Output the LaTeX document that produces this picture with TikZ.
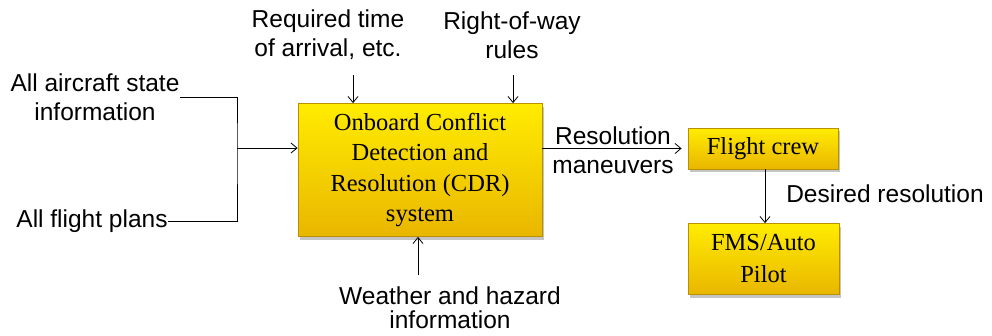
\documentclass[tikz,border=0pt]{standalone}
\usepackage{fontspec}
\setmainfont{Liberation Serif}
\setsansfont{Liberation Sans}
\usetikzlibrary{arrows.meta,shadows}
\definecolor{ytop}{HTML}{FFEC00}
\definecolor{ybot}{HTML}{E9B600}
\definecolor{yedge}{HTML}{B89000}
\tikzset{
  ybox/.style={draw=yedge, line width=0.8pt, top color=ytop, bottom color=ybot,
    drop shadow={shadow xshift=2pt, shadow yshift=-3pt, fill=black!45, opacity=0.5},
    align=center, inner sep=0pt, font=\rmfamily\fontsize{24.5}{30.5}\selectfont},
  lbl/.style={align=center, inner sep=0pt, font=\sffamily\fontsize{24.5}{29}\selectfont},
  arr/.style={-{Straight Barb[length=6pt,width=10pt]}, line width=0.8pt},
  ln/.style={line width=0.8pt}
}
\begin{document}
\begin{tikzpicture}[x=1pt,y=-1pt]
\useasboundingbox (0,0) rectangle (992,335);
% boxes
\node[ybox, minimum width=244pt, minimum height=133pt] (main) at (420,170)
  {Onboard Conflict\\Detection and\\Resolution (CDR)\\system};
\node[ybox, minimum width=150pt, minimum height=41pt] (crew) at (763,148.5) {Flight crew};
\node[ybox, minimum width=151pt, minimum height=71pt, font=\rmfamily\fontsize{24.5}{32}\selectfont] (fms) at (763.5,259) {FMS/Auto\\Pilot};
% labels
\node[lbl] (ac) at (95,97.5) {All aircraft state\\information};
\node[lbl] (fp) at (92,221) {All flight plans};
\node[lbl] (rta) at (328,35) {Required time\\of arrival, etc.};
\node[lbl] (row) at (512,35) {Right-of-way\\rules};
\node[lbl, font=\sffamily\fontsize{24.5}{24}\selectfont] (wx) at (450,308) {Weather and hazard\\information};
\node[lbl] (rm) at (613,150) {Resolution\\maneuvers};
\node[lbl] (dr) at (885,194) {Desired resolution};
% coordinates
\coordinate (j) at (237,148);
\coordinate (rtas) at (353,75);
\coordinate (rows) at (513,75);
\coordinate (wxs) at (418,275);
% connectors
\draw[ln] (ac.east) -| (j) |- (fp.east);
\draw[arr] (j) -- (j -| main.west);
\draw[arr] (rtas) -- (rtas |- main.north);
\draw[arr] (rows) -- (rows |- main.north);
\draw[arr] (wxs) -- (wxs |- main.south);
\draw[arr, shorten >=6pt] (main.east |- crew.west) -- (crew.west);
\draw[arr] (crew.south -| 765,0) -- (fms.north -| 765,0);
\end{tikzpicture}
\end{document}
